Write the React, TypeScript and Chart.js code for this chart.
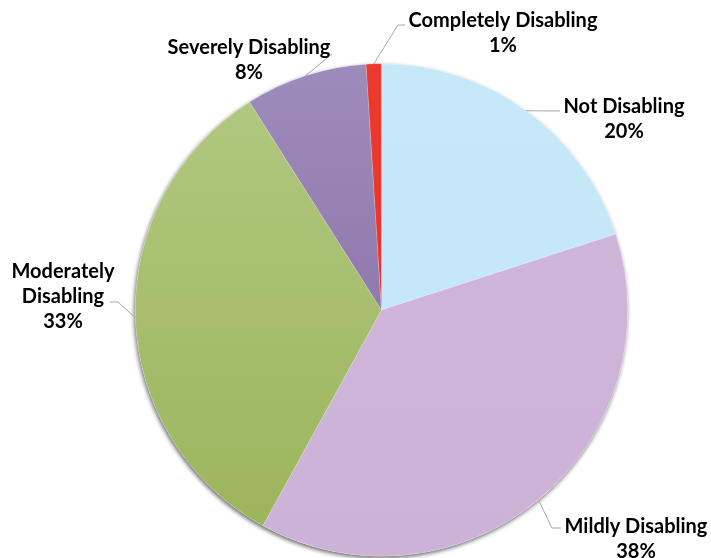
import React, { useEffect, useRef } from "react";
import { Chart, registerables } from "chart.js";

Chart.register(...registerables);

const categories = [
  "Not Disabling",
  "Mildly Disabling",
  "Moderately Disabling",
  "Severely Disabling",
  "Completely Disabling",
];
const values = [20, 38, 33, 8, 1];
const labelLines = [
  ["Not Disabling", "20%"],
  ["Mildly Disabling", "38%"],
  ["Moderately", "Disabling", "33%"],
  ["Severely Disabling", "8%"],
  ["Completely Disabling", "1%"],
];

// colours: [top, bottom] for a gentle vertical gradient
const colorStops = [
  ["#C6E8F8", "#C3E6F6"],
  ["#CFB7DA", "#CCB2D7"],
  ["#B2C982", "#9BB45A"],
  ["#9D8CBB", "#8466A0"],
  ["#EC3A2E", "#E5302A"],
];

// label layout (text centre x, first line centre y, elbow x/y, leader end x)
const labelLayout = [
  { x: 624, y: 107, ex: 560, ey: 111, hx: 560, align: "center" },
  { x: 636, y: 527, ex: 552, ey: 528, hx: 561, align: "center" },
  { x: 63, y: 272, ex: 118, ey: 302, hx: 110, align: "center" },
  { x: 249, y: 48, ex: 332, ey: 54, hx: 332, align: "center" },
  { x: 503, y: 21, ex: 398, ey: 25, hx: 405, align: "center" },
];

const FONT = "bold 20px Lato, 'Open Sans', sans-serif";
const LINE_H = 25;

const shadowPlugin = {
  id: "pieShadow",
  beforeDatasetsDraw(chart: any) {
    const meta = chart.getDatasetMeta(0);
    const arc = meta.data[0];
    if (!arc) return;
    const { x, y, outerRadius } = arc.getProps(["x", "y", "outerRadius"], true);
    const ctx = chart.ctx;
    ctx.save();
    ctx.beginPath();
    ctx.arc(x, y, outerRadius, 0, Math.PI * 2);
    ctx.fillStyle = "#ffffff";
    ctx.shadowColor = "rgba(0,0,0,0.6)";
    ctx.shadowBlur = 4;
    ctx.shadowOffsetX = -1;
    ctx.shadowOffsetY = 2;
    ctx.fill();
    ctx.restore();
  },
};

const labelPlugin = {
  id: "pieLabels",
  afterDatasetsDraw(chart: any) {
    const meta = chart.getDatasetMeta(0);
    const ctx = chart.ctx;
    ctx.save();
    meta.data.forEach((arc: any, i: number) => {
      const { x, y, outerRadius, startAngle, endAngle } = arc.getProps(
        ["x", "y", "outerRadius", "startAngle", "endAngle"],
        true
      );
      const mid = (startAngle + endAngle) / 2;
      const px = x + Math.cos(mid) * outerRadius;
      const py = y + Math.sin(mid) * outerRadius;
      const L = labelLayout[i];
      ctx.beginPath();
      ctx.strokeStyle = "#A6A6A6";
      ctx.lineWidth = 1;
      ctx.moveTo(px, py);
      ctx.lineTo(L.ex, L.ey);
      ctx.lineTo(L.hx, L.ey);
      ctx.stroke();
      ctx.font = FONT;
      ctx.fillStyle = "#000000";
      ctx.textAlign = L.align;
      ctx.textBaseline = "middle";
      labelLines[i].forEach((t, k) => {
        ctx.fillText(t, L.x, L.y + k * LINE_H);
      });
    });
    ctx.restore();
  },
};

export default function App() {
  const ref = useRef<HTMLCanvasElement | null>(null);
  useEffect(() => {
    document.body.style.margin = "0";
    const canvas = ref.current!;
    const chart = new Chart(canvas, {
      type: "pie",
      data: {
        labels: categories,
        datasets: [
          {
            data: values,
            backgroundColor: (c: any) => {
              const i = c.dataIndex;
              const area = c.chart.chartArea;
              if (!area) return colorStops[i][0];
              const g = c.chart.ctx.createLinearGradient(0, area.top, 0, area.bottom);
              g.addColorStop(0, colorStops[i][0]);
              g.addColorStop(1, colorStops[i][1]);
              return g;
            },
            borderColor: "rgba(255,255,255,0.35)",
            borderWidth: 0.5,
          },
        ],
      },
      options: {
        responsive: false,
        animation: false,
        layout: { padding: { left: 135, right: 83, top: 63, bottom: 1 } },
        plugins: {
          legend: { display: false },
          tooltip: { enabled: false },
        },
      },
      plugins: [shadowPlugin, labelPlugin],
    });
    return () => chart.destroy();
  }, []);
  return (
    <div style={{ width: 711, height: 558, background: "#fff" }}>
      <canvas ref={ref} width={711} height={558} style={{ display: "block" }} />
    </div>
  );
}
